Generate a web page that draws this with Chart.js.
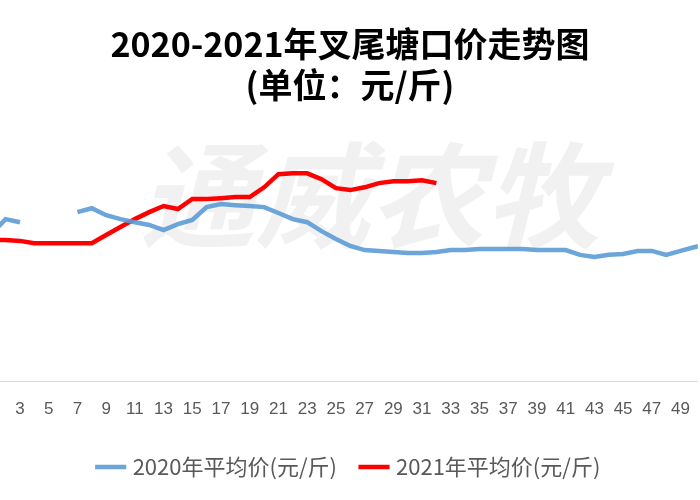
<!DOCTYPE html>
<html><head><meta charset="utf-8">
<script src="https://cdn.jsdelivr.net/npm/chart.js@4/dist/chart.umd.min.js"></script>
<style>html,body{margin:0;background:#fff}#w{width:700px;height:500px}</style>
</head><body><div id="w"><canvas id="c"></canvas></div>
<script>
const weeks = Array.from({length:52},(_,i)=>i+1);
const tickWeeks = [3,5,7,9,11,13,15,17,19,21,23,25,27,29,31,33,35,37,39,41,43,45,47,49];
const price2020 = [5.29,5.82,5.71,null,null,null,6.07,6.21,5.96,5.82,5.71,5.61,5.43,5.64,5.79,6.25,6.36,6.32,6.29,6.25,6.04,5.82,5.71,5.39,5.11,4.86,4.71,4.68,4.64,4.61,4.61,4.64,4.71,4.71,4.75,4.75,4.75,4.75,4.71,4.71,4.71,4.54,4.46,4.54,4.57,4.68,4.68,4.54,4.68,4.82,4.93,5.0];
const price2021 = [5.07,5.07,5.04,4.96,4.96,4.96,4.96,4.96,5.25,5.54,5.82,6.07,6.29,6.18,6.54,6.54,6.57,6.61,6.61,6.96,7.43,7.46,7.46,7.25,6.93,6.86,6.96,7.11,7.18,7.18,7.21,7.11];
const pts = a => a.map((v,i)=>({x:weeks[i],y:v}));
const wm = {id:'wm',beforeDatasetsDraw(c){const x=c.ctx;x.save();x.fillStyle='rgba(200,200,200,0.25)';x.font='italic bold 115px "Noto Sans CJK SC"';x.textBaseline='middle';x.fillText('通威农牧',140,195);x.restore();}};
new Chart(document.getElementById('c'),{type:'line',
data:{datasets:[
{label:'2020年平均价(元/斤)',data:pts(price2020),borderColor:'rgba(91,155,213,0.9)',borderWidth:4.5,pointRadius:0,spanGaps:false,tension:0},
{label:'2021年平均价(元/斤)',data:pts(price2021),borderColor:'#ff0000',borderWidth:4.5,pointRadius:0,tension:0}]},
options:{animation:false,responsive:true,maintainAspectRatio:false,
layout:{padding:{left:0,right:0,top:14,bottom:12}},
plugins:{title:{display:true,text:['2020-2021年叉尾塘口价走势图','(单位：元/斤)'],font:{size:34,weight:'bold',family:'"Noto Sans CJK SC"'},color:'#000',padding:{top:10,bottom:8},lineHeight:1.27},
legend:{position:'bottom',labels:{usePointStyle:true,pointStyle:'line',boxWidth:50,font:{size:22,family:'"Noto Sans CJK SC"'},color:'#595959',padding:26}},tooltip:{enabled:false}},
scales:{x:{type:'linear',min:1.61,max:50.2,afterBuildTicks(a){a.ticks=tickWeeks.map(v=>({value:v}));},
ticks:{autoSkip:false,maxRotation:0,font:{size:17},color:'#595959',padding:10},grid:{display:false},border:{color:'#d9d9d9',width:1}},
y:{display:false,min:0,max:9.6}}},plugins:[wm]});
</script></body></html>
